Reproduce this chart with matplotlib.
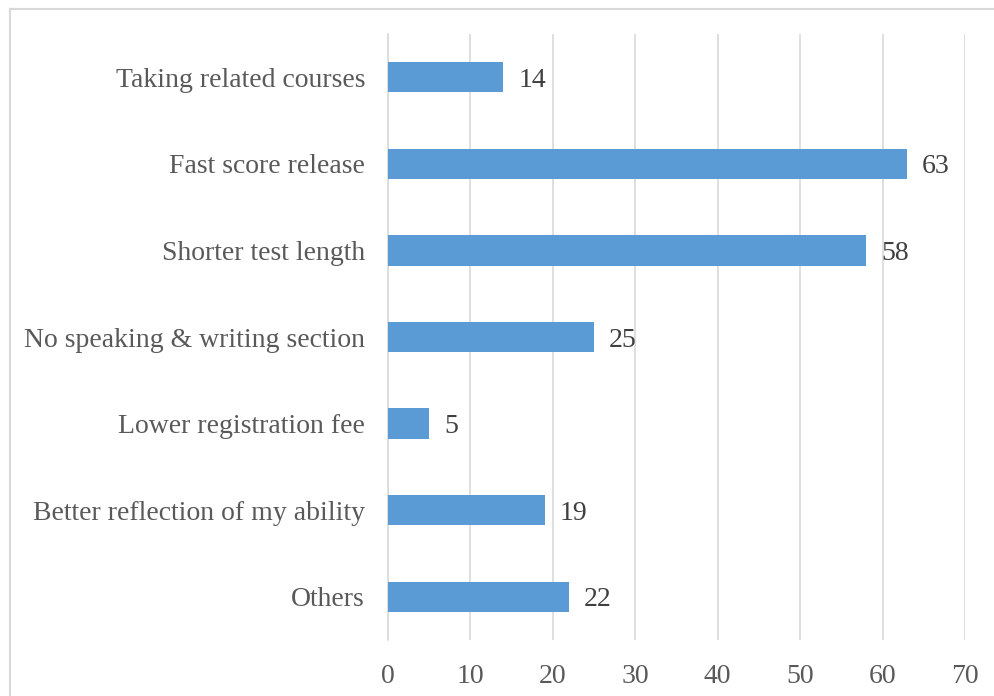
import matplotlib
matplotlib.use("Agg")
from matplotlib import pyplot as plt
from matplotlib.lines import Line2D

# data
categories = ['Taking related courses', 'Fast score release', 'Shorter test length',
              'No speaking & writing section', 'Lower registration fee',
              'Better reflection of my ability', 'Others']
values = [14, 63, 58, 25, 5, 19, 22]
x_ticks = [0, 10, 20, 30, 40, 50, 60, 70]

plt.rcParams['font.family'] = ['Liberation Serif', 'DejaVu Serif']

fig = plt.figure(figsize=(9.94, 6.96), dpi=100)
ax = fig.add_axes([0.3903, 0.0805, 0.5805, 0.8706])

pos = list(range(len(categories)))
ax.barh(pos, values, height=0.35, color='#5B9BD5', zorder=3)
for p, v in zip(pos, values):
    ax.text(v + 1.8, p, str(v), va='center_baseline', ha='left', fontsize=20, color='#404040')

ax.set_ylim(len(categories) - 0.5, -0.5)
ax.set_yticks(pos)
ax.set_yticklabels(categories, fontsize=20, color='#595959')
ax.set_xlim(0, 70)
ax.set_xticks(x_ticks)
ax.set_xticklabels([str(t) for t in x_ticks], fontsize=20, color='#595959')
ax.tick_params(length=0)
ax.tick_params(axis='y', pad=16.5)
ax.tick_params(axis='x', pad=17)
ax.xaxis.grid(True, color='#D9D9D9', linewidth=1.2, zorder=0)
for s in ['top', 'right', 'bottom']:
    ax.spines[s].set_visible(False)
ax.spines['left'].set_color('#D9D9D9')
ax.spines['left'].set_linewidth(1.2)

# outer chart frame
fig.add_artist(Line2D([0.010, 1.0], [0.987, 0.987], color='#D9D9D9', lw=1.5, transform=fig.transFigure))
fig.add_artist(Line2D([0.010, 0.010], [0.0, 0.987], color='#D9D9D9', lw=1.5, transform=fig.transFigure))

plt.savefig('out.png', dpi=100)
